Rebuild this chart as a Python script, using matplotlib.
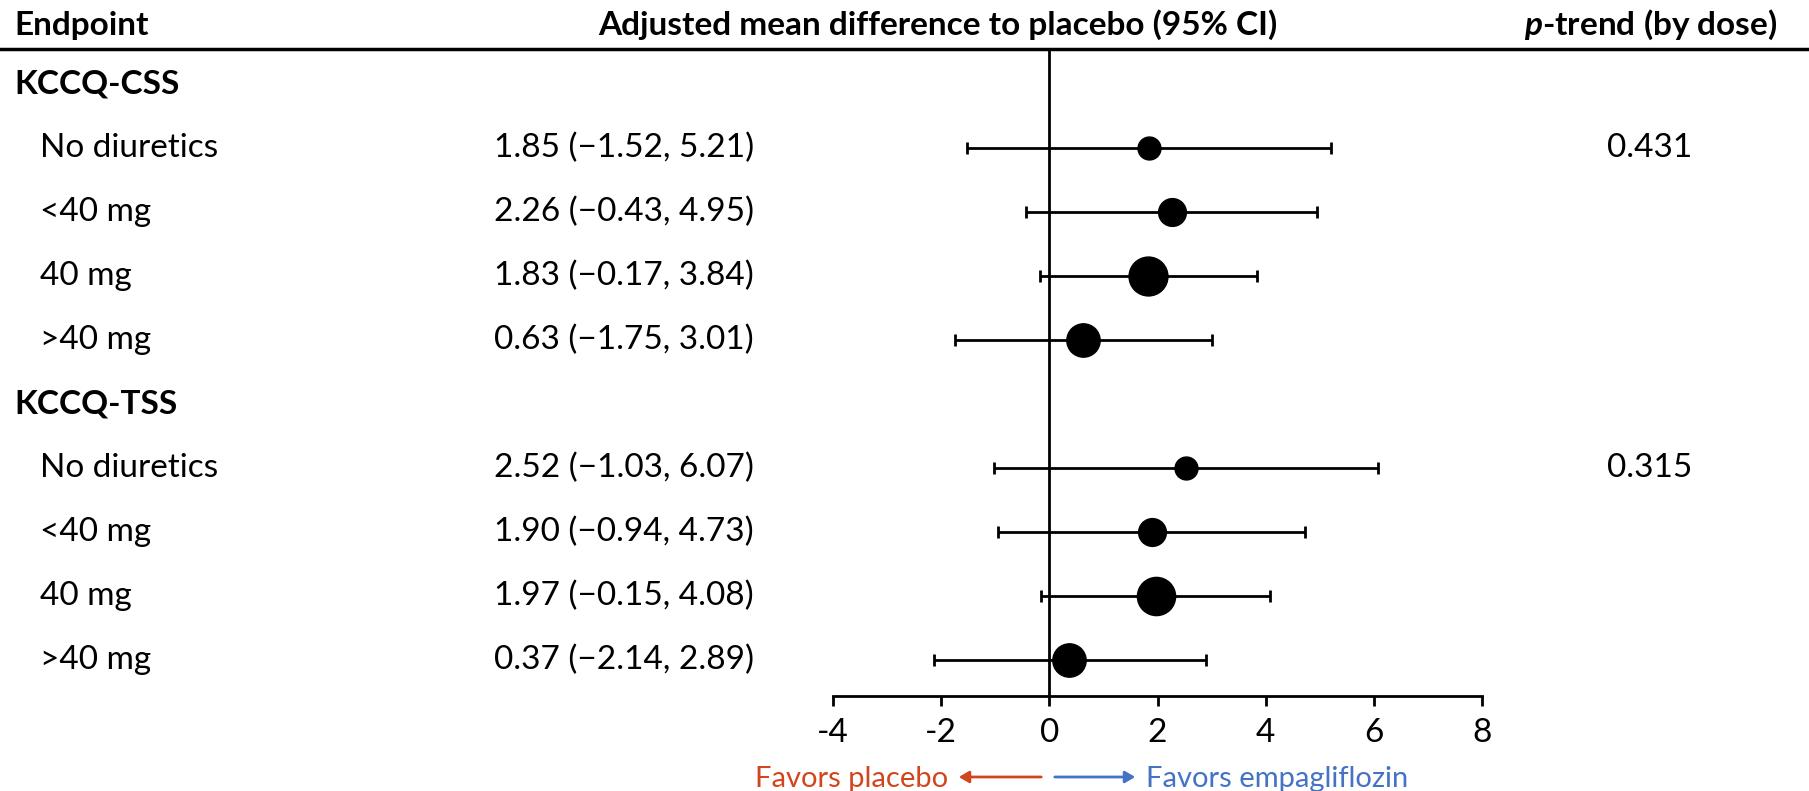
import matplotlib
matplotlib.use("Agg")
import matplotlib.pyplot as plt
import matplotlib.transforms as mtransforms
from matplotlib.patches import FancyArrowPatch

plt.rcParams.update({
    "font.family": ["Lato", "DejaVu Sans"],
    "font.size": 24,
    "mathtext.fontset": "custom",
    "mathtext.it": "Lato:bold:italic",
    "mathtext.rm": "Lato:bold",
})

# ---- data ----
GROUPS = ["KCCQ-CSS", "KCCQ-TSS"]
DOSES = ["No diuretics", "<40 mg", "40 mg", ">40 mg"]
EST = [[1.85, 2.26, 1.83, 0.63], [2.52, 1.90, 1.97, 0.37]]
LO = [[-1.52, -0.43, -0.17, -1.75], [-1.03, -0.94, -0.15, -2.14]]
HI = [[5.21, 4.95, 3.84, 3.01], [6.07, 4.73, 4.08, 2.89]]
P_TREND = ["0.431", "0.315"]
MSIZE = [[16.5, 20, 28, 24], [16.5, 20, 27.5, 24]]
XTICKS = [-4, -2, 0, 2, 4, 6, 8]

RED = "#D2461E"
BLUE = "#4472C4"

W, H = 1809, 791
fig = plt.figure(figsize=(W / 100, H / 100), dpi=100)


def fx(px):
    return px / W


def fy(py):
    return 1 - py / H


# axes: x -4..8 maps to 833..1482 px; top at header rule, bottom at x-axis
ax = fig.add_axes([fx(833), fy(696), fx(1482 - 833), fy(49) - fy(696)])
ax.set_xlim(-4, 8)
ax.set_ylim(9.56, -0.55)
for s in ["top", "right", "left"]:
    ax.spines[s].set_visible(False)
ax.spines["bottom"].set_linewidth(2)
ax.set_yticks([])
ax.set_xticks(XTICKS)
ax.set_xticklabels([str(t) for t in XTICKS])
ax.tick_params(axis="x", direction="out", length=7.5, width=2, pad=8, labelsize=24)
ax.axvline(0, color="black", linewidth=2, zorder=1)

trans = mtransforms.blended_transform_factory(fig.transFigure, ax.transData)

row = 0
for g in range(len(GROUPS)):
    ax.text(fx(14), row, GROUPS[g], transform=trans, ha="left", va="center",
            fontweight="bold", clip_on=False)
    row += 1
    for i, d in enumerate(DOSES):
        e, lo, hi = EST[g][i], LO[g][i], HI[g][i]
        ax.errorbar(e, row, xerr=[[e - lo], [hi - e]], fmt="none", ecolor="black",
                    elinewidth=2, capsize=4.5, capthick=2, zorder=2)
        ax.plot(e, row, "o", color="black", markersize=MSIZE[g][i], zorder=3)
        ax.text(fx(40), row, d, transform=trans, ha="left", va="center", clip_on=False)
        ci = f"{e:.2f} ({lo:.2f}, {hi:.2f})".replace("-", "\u2212")
        ax.text(fx(494), row, ci, transform=trans, ha="left", va="center", clip_on=False)
        if i == 0:
            ax.text(fx(1650), row, P_TREND[g], transform=trans, ha="center",
                    va="center", clip_on=False)
        row += 1

# header
fig.text(fx(14), fy(25), "Endpoint", ha="left", va="center", fontweight="bold")
fig.text(fx(938), fy(25), "Adjusted mean difference to placebo (95% CI)",
         ha="center", va="center", fontweight="bold")
fig.text(fx(1777), fy(25), r"$\it{p}$-trend (by dose)", ha="right",
         va="center", fontweight="bold")
fig.add_artist(plt.Line2D([0, 1], [fy(49), fy(49)], color="black", linewidth=2.5))

# favors arrows
fig.text(fx(948), fy(779), "Favors placebo", ha="right", va="center",
         color=RED, fontsize=21)
fig.text(fx(1146), fy(779), "Favors empagliflozin", ha="left", va="center",
         color=BLUE, fontsize=21)
fig.add_artist(FancyArrowPatch(
    (fx(1044), fy(777)), (fx(956), fy(777)), transform=fig.transFigure,
    arrowstyle="-|>,head_length=6,head_width=3.5", color=RED, linewidth=2))
fig.add_artist(FancyArrowPatch(
    (fx(1052), fy(777)), (fx(1138), fy(777)), transform=fig.transFigure,
    arrowstyle="-|>,head_length=6,head_width=3.5", color=BLUE, linewidth=2))

fig.savefig("out.png", dpi=100)
